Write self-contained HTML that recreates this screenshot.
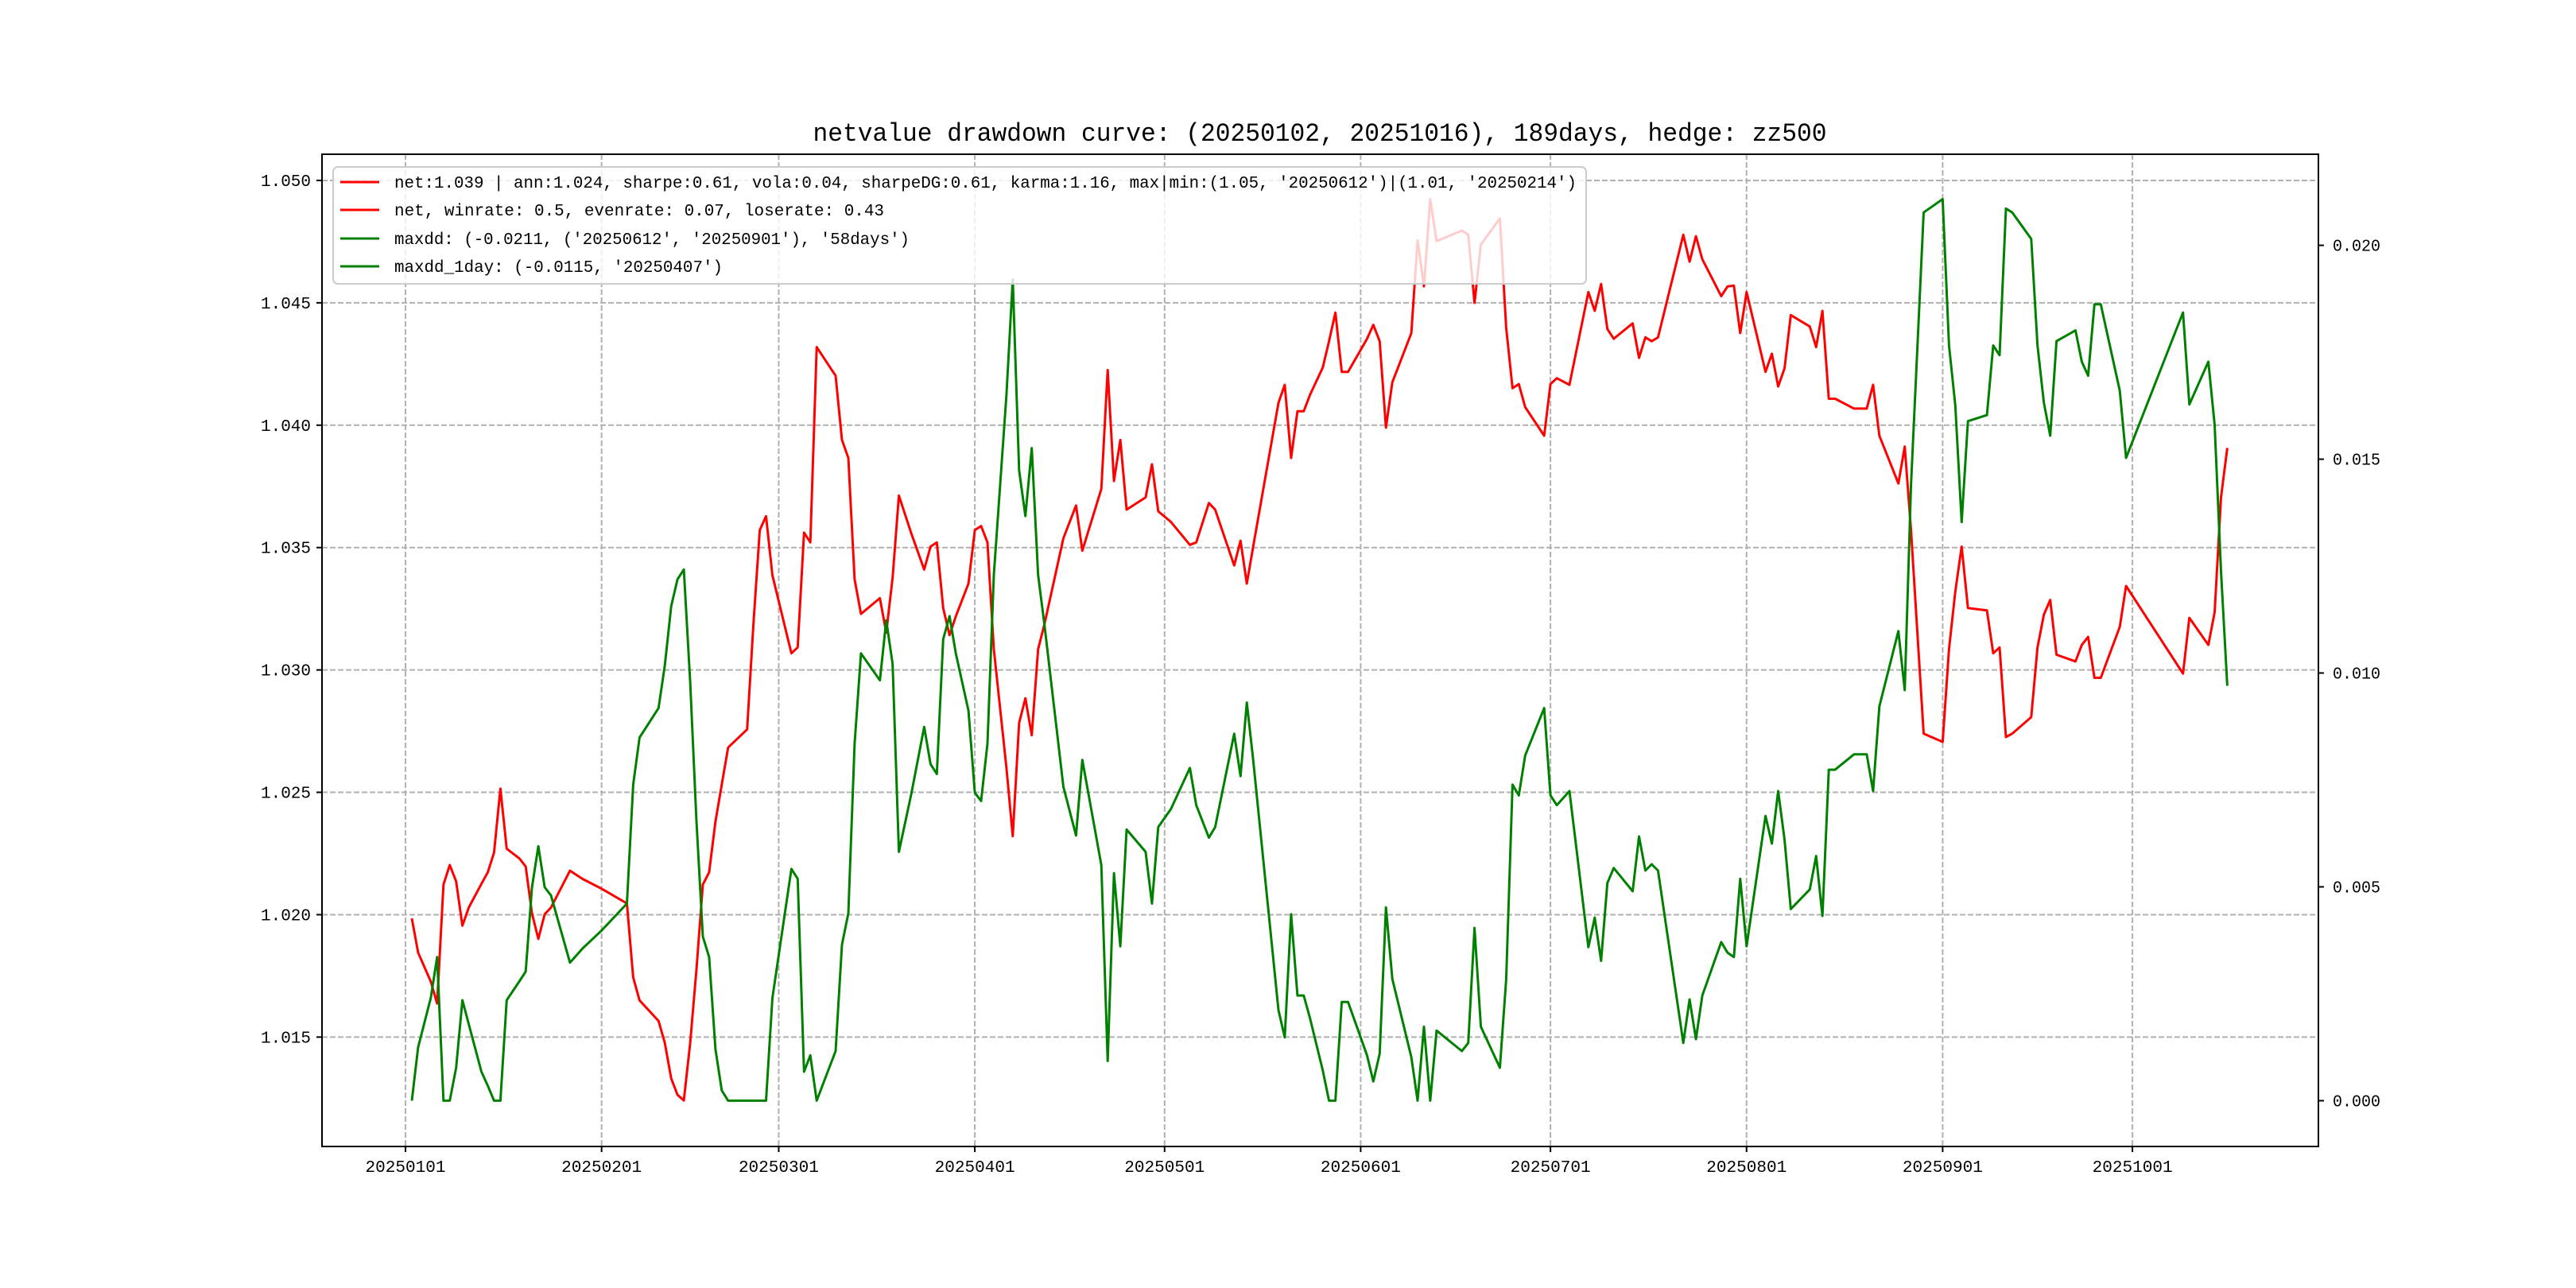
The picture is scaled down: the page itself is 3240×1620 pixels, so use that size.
<!DOCTYPE html>
<html><head><meta charset="utf-8"><title>netvalue drawdown curve</title>
<style>
html,body{margin:0;padding:0;background:#fff;}
svg{display:block;}
text{font-family:"Liberation Mono","Noto Sans CJK SC",monospace;fill:#000;}
</style></head>
<body>
<svg id="chart" xmlns="http://www.w3.org/2000/svg" width="3240" height="1620" viewBox="0 0 3240 1620"></svg>
<script>
// day offsets from 2025-01-01
const days = [1,2,4,5,6,7,8,9,10,12,13,14,15,16,18,19,20,21,22,23,26,28,31,35,36,37,40,41,42,43,44,45,46,47,48,49,50,51,54,55,56,57,58,61,62,63,64,65,68,69,70,71,72,75,76,77,78,80,82,83,84,85,86,87,89,90,91,92,93,95,96,97,98,99,100,101,104,106,107,110,111,112,113,114,117,118,119,121,124,125,127,128,131,132,133,134,138,139,140,141,142,143,145,146,147,148,149,152,153,154,155,156,159,160,161,162,163,167,168,169,170,173,174,175,176,177,180,181,182,184,187,188,189,190,191,194,195,196,197,198,202,203,204,205,208,209,210,211,212,215,216,217,218,219,222,223,224,225,226,229,231,232,233,236,237,238,240,243,244,245,246,247,250,251,252,253,254,257,258,259,260,261,264,265,266,267,268,271,272,281,282,285,286,287,288];
const netValues = [1.01985,1.01845,1.01727,1.01637,1.02123,1.02203,1.02136,1.01955,1.02029,1.02126,1.02173,1.02254,1.02515,1.02270,1.02230,1.02197,1.02005,1.01901,1.02002,1.02029,1.02180,1.02146,1.02106,1.02046,1.01744,1.01650,1.01566,1.01476,1.01331,1.01264,1.01241,1.01476,1.01777,1.02123,1.02173,1.02381,1.02532,1.02683,1.02757,1.03186,1.03571,1.03628,1.03387,1.03068,1.03092,1.03561,1.03521,1.04319,1.04202,1.03940,1.03866,1.03370,1.03229,1.03293,1.03152,1.03377,1.03712,1.03555,1.03410,1.03504,1.03521,1.03253,1.03142,1.03219,1.03353,1.03571,1.03588,1.03521,1.03085,1.02599,1.02321,1.02783,1.02884,1.02733,1.03085,1.03186,1.03538,1.03672,1.03487,1.03739,1.04225,1.03772,1.03940,1.03655,1.03705,1.03840,1.03648,1.03605,1.03511,1.03521,1.03682,1.03655,1.03427,1.03528,1.03353,1.03504,1.04091,1.04165,1.03866,1.04057,1.04057,1.04125,1.04235,1.04343,1.04460,1.04218,1.04218,1.04353,1.04410,1.04343,1.03990,1.04175,1.04376,1.04755,1.04567,1.04923,1.04752,1.04795,1.04778,1.04500,1.04738,1.04845,1.04399,1.04151,1.04168,1.04074,1.03957,1.04168,1.04192,1.04165,1.04544,1.04467,1.04577,1.04393,1.04353,1.04416,1.04275,1.04359,1.04343,1.04359,1.04778,1.04668,1.04772,1.04678,1.04527,1.04567,1.04570,1.04376,1.04544,1.04218,1.04292,1.04158,1.04232,1.04450,1.04403,1.04319,1.04467,1.04108,1.04108,1.04068,1.04068,1.04165,1.03957,1.03762,1.03913,1.03571,1.02740,1.02706,1.03085,1.03320,1.03504,1.03253,1.03243,1.03068,1.03092,1.02726,1.02740,1.02807,1.03092,1.03226,1.03286,1.03062,1.03035,1.03102,1.03135,1.02968,1.02968,1.03176,1.03343,1.02985,1.03213,1.03102,1.03236,1.03705,1.03907];
const ddValues = [0,0.00125,0.0024,0.00336,0,0,0.00077,0.00235,0.00179,0.00068,0.00035,0,0,0.00235,0.00279,0.00302,0.00499,0.00595,0.00499,0.0048,0.00323,0.00356,0.00398,0.00461,0.00739,0.00849,0.00918,0.01018,0.01156,0.01219,0.01242,0.00979,0.00653,0.00384,0.00336,0.0012,0.00024,0,0,0,0,0,0.0024,0.00542,0.00519,0.00068,0.00106,0,0.00116,0.00365,0.00438,0.00835,0.01046,0.00983,0.01123,0.01021,0.00582,0.0072,0.00874,0.00787,0.00764,0.01079,0.01133,0.01046,0.00912,0.0072,0.00701,0.00835,0.01229,0.01651,0.0192,0.01474,0.01367,0.01526,0.01229,0.01114,0.00734,0.0062,0.00797,0.00551,0.00093,0.00532,0.00361,0.00634,0.00582,0.00461,0.0064,0.00682,0.00778,0.00691,0.00615,0.0064,0.00858,0.00759,0.00931,0.00797,0.00212,0.00148,0.00436,0.00246,0.00246,0.00192,0.00071,0,0,0.00231,0.00231,0.00106,0.00045,0.0011,0.00452,0.00285,0.00102,0,0.00173,0,0.00164,0.00116,0.00135,0.00404,0.00173,0.00077,0.00283,0.00739,0.00714,0.00807,0.00918,0.00714,0.00691,0.00724,0.00359,0.00428,0.00327,0.00509,0.00544,0.0049,0.00618,0.00538,0.00553,0.00538,0.00135,0.00237,0.00144,0.00246,0.00371,0.00346,0.00336,0.00519,0.00361,0.00666,0.00601,0.00724,0.00611,0.00448,0.00494,0.00572,0.00432,0.00774,0.00774,0.0081,0.0081,0.00724,0.00922,0.01098,0.0096,0.0144,0.02077,0.02108,0.01766,0.01626,0.01353,0.01589,0.01603,0.01766,0.01743,0.02086,0.02077,0.02015,0.01766,0.01632,0.01555,0.01776,0.01801,0.01728,0.01695,0.01862,0.01862,0.0166,0.01503,0.01843,0.01628,0.01728,0.0158,0.01238,0.0097];
const xTickDays = [0,31,59,90,120,151,181,212,243,273];
const xTickLabels = ["20250101","20250201","20250301","20250401","20250501","20250601","20250701","20250801","20250901","20251001"];
const leftTicks = [1.015,1.020,1.025,1.030,1.035,1.040,1.045,1.050];
const leftTickLabels = ["1.015","1.020","1.025","1.030","1.035","1.040","1.045","1.050"];
const rightTicks = [0,0.005,0.010,0.015,0.020];
const rightTickLabels = ["0.000","0.005","0.010","0.015","0.020"];
const legendLabels = [
 "net:1.039 | ann:1.024, sharpe:0.61, vola:0.04, sharpeDG:0.61, karma:1.16, max|min:(1.05, '20250612')|(1.01, '20250214')",
 "net, winrate: 0.5, evenrate: 0.07, loserate: 0.43",
 "maxdd: (-0.0211, ('20250612', '20250901'), '58days')",
 "maxdd_1day: (-0.0115, '20250407')"
];

const NS = "http://www.w3.org/2000/svg";
const svg = document.getElementById('chart');
const L=405, R=2916, T=194, B=1442;
const xMin=-13.2, xMax=302.4;
const yLMin=1.01053, yLMax=1.05107;
const yRMin=-0.00107, yRMax=0.02213;
function xs(d){return L+(d-xMin)/(xMax-xMin)*(R-L);}
function yl(v){return B-(v-yLMin)/(yLMax-yLMin)*(B-T);}
function yr(v){return B-(v-yRMin)/(yRMax-yRMin)*(B-T);}
function mk(tag, attrs, parent){
  const e=document.createElementNS(NS,tag);
  for(const k in attrs) e.setAttribute(k,attrs[k]);
  (parent||svg).appendChild(e); return e;
}
// title
const title = mk('text',{x:1660,y:177,'text-anchor':'middle','font-size':32,textLength:1275,lengthAdjust:'spacingAndGlyphs'});
title.textContent="netvalue drawdown curve: (20250102, 20251016), 189days, hedge: zz500";



// grid
const grid = mk('g',{});


xTickDays.forEach(d=>{
  const ln=mk('line',{x1:xs(d),x2:xs(d),y1:T,y2:B,stroke:'#b0b0b0','stroke-width':2,'stroke-dasharray':'7,3'},grid);
  
  
});
leftTicks.forEach(v=>{
  const ln=mk('line',{x1:L,x2:R,y1:yl(v),y2:yl(v),stroke:'#b0b0b0','stroke-width':2,'stroke-dasharray':'7,3'},grid);
  
  
});

// series
function pathFor(vals, yf){return vals.map((v,i)=>(i?'L':'M')+xs(days[i]).toFixed(1)+','+yf(v).toFixed(1)).join(' ');}
const net = mk('path',{d:pathFor(netValues,yl),fill:'none',stroke:'#ff0000','stroke-width':3,'stroke-linejoin':'round'});


const dd = mk('path',{d:pathFor(ddValues,yr),fill:'none',stroke:'#008000','stroke-width':3,'stroke-linejoin':'round'});



// axes frame
const frame = mk('rect',{x:L,y:T,width:R-L,height:B-T,fill:'none',stroke:'#000','stroke-width':2});



// x ticks
xTickDays.forEach((d,i)=>{
  mk('line',{x1:xs(d),x2:xs(d),y1:B,y2:B+7,stroke:'#000','stroke-width':2});
  const t=mk('text',{x:xs(d),y:B+32,'text-anchor':'middle','font-size':21,textLength:101,lengthAdjust:'spacingAndGlyphs'});
  t.textContent=xTickLabels[i];
  
  
});
leftTicks.forEach((v,i)=>{
  mk('line',{x1:L-7,x2:L,y1:yl(v),y2:yl(v),stroke:'#000','stroke-width':2});
  const t=mk('text',{x:L-14,y:yl(v)+7,'text-anchor':'end','font-size':21,textLength:63,lengthAdjust:'spacingAndGlyphs'});
  t.textContent=leftTickLabels[i];
  
  
});
rightTicks.forEach((v,i)=>{
  mk('line',{x1:R,x2:R+7,y1:yr(v),y2:yr(v),stroke:'#000','stroke-width':2});
  const t=mk('text',{x:R+18,y:yr(v)+7,'text-anchor':'start','font-size':21,textLength:60,lengthAdjust:'spacingAndGlyphs'});
  t.textContent=rightTickLabels[i];
  
  
});

// legend
const lg = mk('g',{});


mk('rect',{x:419,y:210,width:1576,height:147,rx:6,fill:'rgba(255,255,255,0.8)',stroke:'#cccccc','stroke-width':2},lg);
const rowY=[229,264,300,335];
const rowColors=['#ff0000','#ff0000','#008000','#008000'];
const rowW=[1487,616,648,413];
legendLabels.forEach((s,i)=>{
  const e=mk('g',{},lg);
  
  
  mk('line',{x1:428,x2:477,y1:rowY[i],y2:rowY[i],stroke:rowColors[i],'stroke-width':3},e);
  const t=mk('text',{x:496,y:rowY[i]+7,'font-size':21,textLength:rowW[i],lengthAdjust:'spacingAndGlyphs'},e);
  t.textContent=s;
});
</script>
</body></html>
